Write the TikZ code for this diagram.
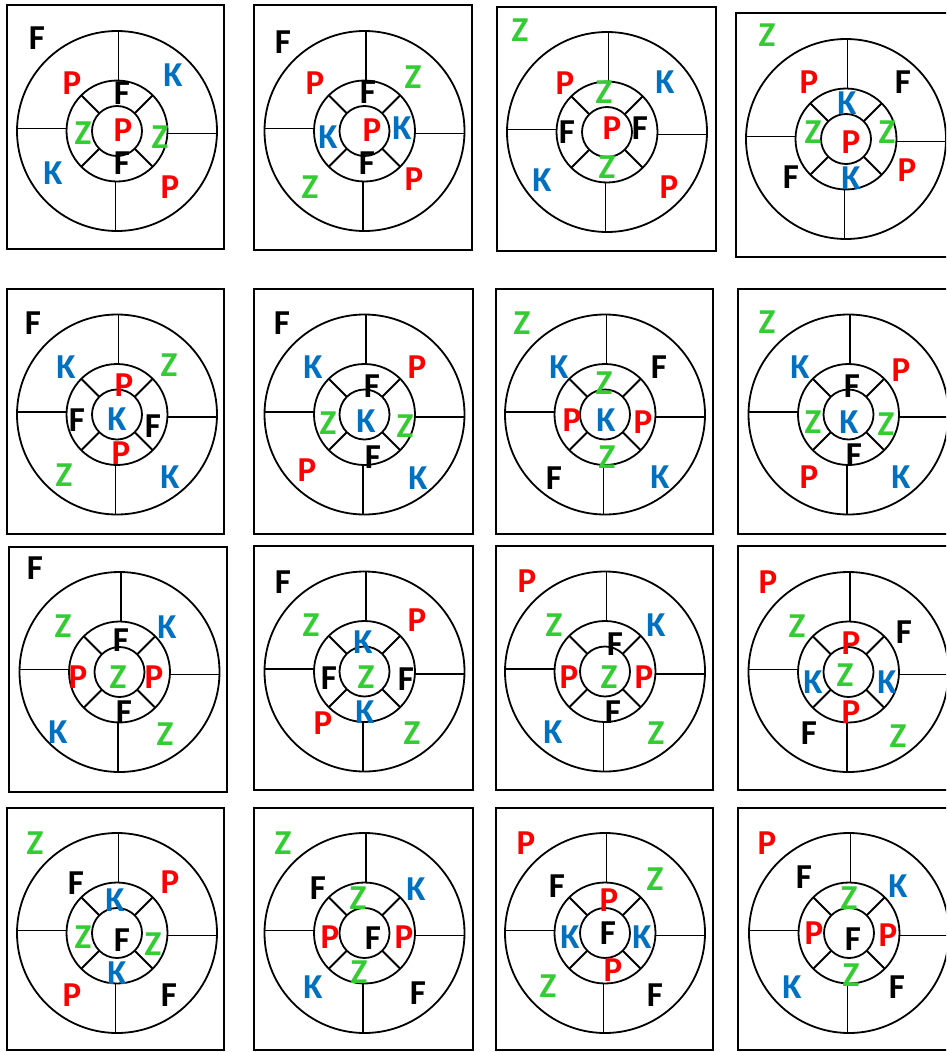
\documentclass[tikz,border=0pt]{standalone}
\usepackage{fontspec}
\setmainfont{Carlito}
\usetikzlibrary{calc}
\definecolor{cred}{HTML}{FF0000}
\definecolor{cgreen}{HTML}{33CC33}
\definecolor{cblue}{HTML}{0070C0}
\tikzset{
  boxline/.style={draw=black, line width=1.8pt},
  ring/.style={draw=black, line width=1.8pt},
  letter/.style={inner sep=0pt, font=\fontsize{35}{35}\selectfont\bfseries},
  lF/.style={letter, text=black},
  lP/.style={letter, text=cred},
  lZ/.style={letter, text=cgreen},
  lK/.style={letter, text=cblue}
}
% #1 id, #2 cx, #3 cy, #4 left, #5 top, #6 right, #7 bottom
\newcommand\panel[7]{%
  \draw[boxline] (#4,#5) rectangle (#6,#7);
  \coordinate (#1) at (#2,#3);
  \draw[ring] (#1) circle[radius=100pt];
  \draw[ring] (#1) circle[radius=50.5pt];
  \draw[ring] (#1) circle[radius=25pt];
  \draw[ring] ($(#1)+(-100,-2.5)$) -- ($(#1)+(-50.5,-2.5)$);
  \draw[ring] ($(#1)+(50.5,2.5)$) -- ($(#1)+(100,2.5)$);
  \draw[ring] ($(#1)+(1.5,-100)$) -- ($(#1)+(1.5,-50.5)$);
  \draw[ring] ($(#1)+(-1.5,50.5)$) -- ($(#1)+(-1.5,100)$);
  \foreach \a in {45,135,225,315}{
    \draw[ring] ($(#1)+(\a:25pt)$) -- ($(#1)+(\a:50.5pt)$);
  }%
}
\newcommand\lett[4]{\node[l#4] (#1) at (#2,#3) {#4};}
\begin{document}
\begin{tikzpicture}[x=1pt,y=-1pt]
\useasboundingbox (0,0) rectangle (946,1052);
\clip (0,0) rectangle (946,1052);
% ---------- row 1 ----------
\panel{a}{117}{131}{7}{5}{224}{249}
\lett{ak}{37}{38}{F}\lett{anw}{72}{83}{P}\lett{ane}{173}{75}{K}\lett{asw}{53}{173}{K}\lett{ase}{170}{187}{P}
\lett{an}{122}{93}{F}\lett{aw}{83}{133}{Z}\lett{ae}{160}{137}{Z}\lett{as}{122}{163}{F}\lett{ac}{123}{130}{P}
\panel{b}{364.5}{131}{254}{5}{472}{250}
\lett{bk}{283}{42}{F}\lett{bnw}{315}{83}{P}\lett{bne}{413}{77}{Z}\lett{bsw}{310}{187}{Z}\lett{bse}{414}{179}{P}
\lett{bn}{368}{92}{F}\lett{bw}{328}{137}{K}\lett{be}{402}{128}{K}\lett{bs}{367}{163}{F}\lett{bc}{372}{130}{P}
\panel{c}{607}{132}{497}{7}{716}{251}
\lett{ck}{520}{30}{Z}\lett{cnw}{565}{83}{P}\lett{cne}{665}{82}{K}\lett{csw}{542}{180}{K}\lett{cse}{669}{187}{P}
\lett{cn}{604}{92}{Z}\lett{cw}{567}{132}{F}\lett{ce}{640}{128}{F}\lett{cs}{607}{167}{Z}\lett{cc}{612}{128}{P}
\panel{d}{846}{139}{736}{13}{957}{257}
\lett{dk}{767}{35}{Z}\lett{dnw}{809}{82}{P}\lett{dne}{903}{82}{F}\lett{dsw}{791}{177}{F}\lett{dse}{907}{170}{P}
\lett{dn}{847}{103}{K}\lett{dw}{813}{132}{Z}\lett{de}{887}{132}{Z}\lett{ds}{851}{178}{K}\lett{dc}{851}{142}{P}
% ---------- row 2 ----------
\panel{e}{117}{414.5}{7}{289}{224}{534}
\lett{ek}{33}{323}{F}\lett{enw}{66}{367}{K}\lett{ene}{169}{365}{Z}\lett{esw}{64}{475}{Z}\lett{ese}{170}{477}{K}
\lett{en}{124}{385}{P}\lett{ew}{77}{420}{F}\lett{ee}{153}{426}{F}\lett{es}{121}{453}{P}\lett{ec}{117}{419}{K}
\panel{f}{364.5}{414.5}{254}{289}{473}{534}
\lett{fk}{282}{323}{F}\lett{fnw}{313}{367}{K}\lett{fne}{417}{367}{P}\lett{fsw}{307}{470}{P}\lett{fse}{418}{478}{K}
\lett{fn}{372}{386}{F}\lett{fw}{328}{423}{Z}\lett{fe}{405}{426}{Z}\lett{fs}{373}{457}{F}\lett{fc}{366}{421}{K}
\panel{g}{605}{414.5}{496}{289}{713}{534}
\lett{gk}{522}{323}{Z}\lett{gnw}{559}{367}{K}\lett{gne}{659}{367}{F}\lett{gsw}{554}{478}{F}\lett{gse}{660}{477}{K}
\lett{gn}{604}{383}{Z}\lett{gw}{572}{420}{P}\lett{ge}{643}{422}{P}\lett{gs}{607}{457}{Z}\lett{gc}{606}{420}{K}
\panel{h}{848.5}{414.5}{738}{289}{958}{534}
\lett{hk}{767}{322}{Z}\lett{hnw}{800}{367}{K}\lett{hne}{901}{370}{P}\lett{hsw}{809}{477}{P}\lett{hse}{901}{477}{K}
\lett{hn}{852}{386}{F}\lett{hw}{813}{422}{Z}\lett{he}{886}{424}{Z}\lett{hs}{854}{455}{F}\lett{hc}{849}{422}{K}
% ---------- row 3 ----------
\panel{i}{119.5}{672}{9}{547}{227}{792}
\lett{ik}{35}{568}{F}\lett{inw}{63}{626}{Z}\lett{ine}{167}{627}{K}\lett{isw}{58}{732}{K}\lett{ise}{165}{734}{Z}
\lett{in}{121}{640}{F}\lett{iw}{78}{677}{P}\lett{ie}{154}{677}{P}\lett{is}{124}{712}{F}\lett{ic}{118}{677}{Z}
\panel{j}{364.5}{671.5}{254}{546}{473}{790}
\lett{jk}{283}{582}{F}\lett{jnw}{311}{625}{Z}\lett{jne}{417}{620}{P}\lett{jsw}{323}{723}{P}\lett{jse}{412}{733}{Z}
\lett{jn}{363}{642}{K}\lett{jw}{329}{678}{F}\lett{je}{406}{679}{F}\lett{js}{365}{712}{K}\lett{jc}{366}{677}{Z}
\panel{k}{605}{671.5}{496}{546}{713}{790}
\lett{kk}{527}{581}{P}\lett{knw}{554}{625}{Z}\lett{kne}{656}{625}{K}\lett{ksw}{553}{732}{K}\lett{kse}{656}{733}{Z}
\lett{kn}{615}{644}{F}\lett{kw}{569}{677}{P}\lett{ke}{644}{677}{P}\lett{ks}{613}{712}{F}\lett{kc}{609}{677}{Z}
\panel{l}{848.5}{672}{738}{546}{958}{790}
\lett{lk}{768}{582}{P}\lett{lnw}{797}{626}{Z}\lett{lne}{904}{632}{F}\lett{lsw}{809}{733}{F}\lett{lse}{898}{736}{Z}
\lett{ln}{851}{643}{P}\lett{lw}{813}{682}{K}\lett{le}{887}{682}{K}\lett{ls}{851}{712}{P}\lett{lc}{845}{675}{Z}
% ---------- row 4 ----------
\panel{m}{117}{933}{7}{808}{224}{1050}
\lett{mk}{35}{843}{Z}\lett{mnw}{76}{883}{F}\lett{mne}{170}{882}{P}\lett{msw}{72}{995}{P}\lett{mse}{169}{995}{F}
\lett{mn}{115}{900}{K}\lett{mw}{83}{937}{Z}\lett{me}{153}{944}{Z}\lett{ms}{117}{973}{K}\lett{mc}{122}{940}{F}
\panel{n}{364.5}{933}{254}{808}{473}{1050}
\lett{nk}{283}{843}{Z}\lett{nnw}{318}{888}{F}\lett{nne}{416}{889}{K}\lett{nsw}{313}{987}{K}\lett{nse}{418}{993}{F}
\lett{nn}{358}{898}{Z}\lett{nw}{330}{937}{P}\lett{ne}{404}{937}{P}\lett{ns}{359}{972}{Z}\lett{nc}{373}{938}{F}
\panel{o}{605}{933}{496}{808}{713}{1050}
\lett{ok}{526}{843}{P}\lett{onw}{557}{886}{F}\lett{one}{655}{879}{Z}\lett{osw}{548}{986}{Z}\lett{ose}{655}{995}{F}
\lett{on}{609}{900}{P}\lett{ow}{570}{937}{K}\lett{oe}{642}{937}{K}\lett{os}{613}{970}{P}\lett{oc}{608}{933}{F}
\panel{q}{849}{933}{738}{808}{958}{1050}
\lett{qk}{767}{843}{P}\lett{qnw}{804}{877}{F}\lett{qne}{898}{886}{K}\lett{qsw}{792}{987}{K}\lett{qse}{897}{987}{F}
\lett{qn}{849}{898}{Z}\lett{qw}{814}{933}{P}\lett{qe}{888}{935}{P}\lett{qs}{851}{975}{Z}\lett{qc}{853}{939}{F}
\end{tikzpicture}
\end{document}
